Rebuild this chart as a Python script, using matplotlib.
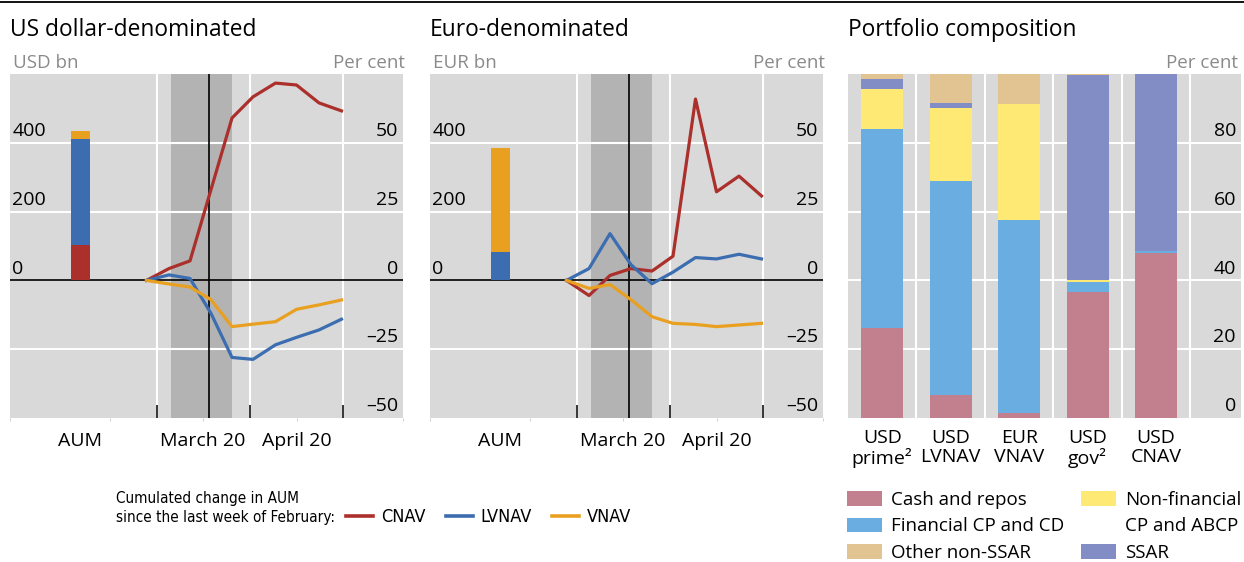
import matplotlib
matplotlib.use('Agg')
import matplotlib.pyplot as plt
import matplotlib.transforms as mtransforms
from matplotlib.lines import Line2D
from matplotlib.patches import Patch
from matplotlib import font_manager

plt.rcParams['font.family'] = ['Open Sans', 'DejaVu Sans']

W, H = 1244, 562

# weekly observations, x = days since 1 March 2020
days = [-3.5, 4, 11, 18, 25, 32, 39.5, 46.5, 54, 61.5]

# cumulated change in AUM, per cent
usd_cnav = [0, 4.3, 7.1, 33, 59, 66.7, 71.7, 71, 64.5, 61.6]
usd_lvnav = [0, 2, 0.7, -12, -28, -28.7, -23.4, -20.7, -18, -14.1]
usd_vnav = [0, -1.3, -2.4, -7, -16.8, -15.9, -15, -10.5, -8.9, -7.1]

eur_cnav = [0, -5.5, 1.8, 4.3, 3.4, 8.8, 65.9, 32.2, 37.9, 30.7]
eur_lvnav = [0, 4.3, 17, 5.7, -1.2, 3, 8.3, 7.8, 9.5, 7.8]
eur_vnav = [0, -2.9, -1.5, -7, -13.2, -15.6, -16, -16.8, -16.2, -15.6]

# AUM, bn
usd_aum = [104, 308, 23]   # CNAV, LVNAV, VNAV
eur_aum = [0, 82, 303]

# portfolio composition, per cent
funds = ['USD\nprime²', 'USD\nLVNAV', 'EUR\nVNAV', 'USD\ngov²', 'USD\nCNAV']
cash = [26.3, 6.6, 1.4, 36.7, 48.1]
fin_cp = [57.7, 62.3, 56.2, 2.9, 0.5]
nonfin = [11.6, 21.2, 33.7, 0.4, 0]
ssar = [2.9, 1.5, 0, 59.6, 51.4]
other = [1.5, 8.4, 8.7, 0.4, 0]

month_ticks = [0, 31, 62]
label_ticks = [-49, -15.7, 15.3, 46.7, 82]
right_ticks = [-50, -25, 0, 25, 50]
left_ticks = [0, 200, 400]

RED, BLUE, ORANGE = '#ab2f2b', '#3b6db0', '#e9a021'
BG = '#d9d9d9'
GREY_TXT = '#8a8a8a'
FS = 14

# condensed face for the bottom-left legend, if one is installed
cond = [f for f in font_manager.fontManager.ttflist
        if f.stretch in ('condensed', 'semi-condensed') and f.style == 'normal'
        and f.weight in (400, 'normal', 'regular', 'book')]
cond.sort(key=lambda f: (f.name != 'DejaVu Sans', f.name))
if cond:
    NOTE_FONT = font_manager.FontProperties(fname=cond[0].fname, size=11)
    KEY_FONT = font_manager.FontProperties(fname=cond[0].fname, size=13)
else:
    NOTE_FONT = font_manager.FontProperties(family='Roboto', size=10.5)
    KEY_FONT = font_manager.FontProperties(family='Roboto', size=12.5)

fig = plt.figure(figsize=(W / 100, H / 100), dpi=100)
fig.add_artist(Line2D([0, 1], [1 - 1.5 / H] * 2, transform=fig.transFigure, color='k', lw=1.3))


def line_panel(left, title, unit, aum, cnav, lvnav, vnav):
    ax = fig.add_axes([left / W, (H - 418) / H, 393 / W, 344 / H])
    ax.set_facecolor(BG)
    ax.set_xlim(-49, 82)
    ax.set_ylim(-50, 75)
    for s in ax.spines.values():
        s.set_visible(False)
    ax.axvspan(4.7, 25, color='#b3b3b3', zorder=0.5, lw=0)
    for y in [-25, 25, 50]:
        ax.axhline(y, color='white', lw=1.5, zorder=1)
    for x in month_ticks:
        ax.axvline(x, color='white', lw=1.5, zorder=1)
    ax.axhline(0, color='k', lw=1.2, zorder=2)
    ax.axvline(17.3, color='k', lw=1.2, zorder=2)
    ax.plot(days, cnav, color=RED, lw=2.3, zorder=4)
    ax.plot(days, lvnav, color=BLUE, lw=2.3, zorder=4)
    ax.plot(days, vnav, color=ORANGE, lw=2.3, zorder=4)

    ax2 = ax.twinx()
    ax2.set_ylim(-400, 600)
    for s in ax2.spines.values():
        s.set_visible(False)
    bottom = 0
    for val, col in zip(aum, [RED, BLUE, ORANGE]):
        ax2.bar(-25.6, val, width=6.3, bottom=bottom, color=col, zorder=3)
        bottom += val

    ax.set_xticks(month_ticks)
    ax.set_xticklabels([])
    ax.set_xticks(label_ticks, minor=True)
    ax.tick_params(axis='x', which='major', direction='in', length=9.5, width=1.1, color='k')
    ax.tick_params(axis='x', which='minor', direction='out', length=2, width=0.6, color='#c8c8c8')
    for a in (ax, ax2):
        a.tick_params(axis='y', which='both', left=False, right=False,
                      labelleft=False, labelright=False)

    up = mtransforms.offset_copy(ax.get_yaxis_transform(), fig=fig, y=2, units='points')
    for v in right_ticks:
        ax.text(0.987, v, str(v).replace('-', '–'), transform=up, ha='right', va='bottom', fontsize=FS)
    up2 = mtransforms.offset_copy(ax2.get_yaxis_transform(), fig=fig, y=2, units='points')
    for v in left_ticks:
        ax2.text(0.006, v, str(v), transform=up2, ha='left', va='bottom', fontsize=FS)

    xt = ax.get_xaxis_transform()
    for x, lab in zip([-25.6, 15.3, 46.5], ['AUM', 'March 20', 'April 20']):
        ax.text(x, -0.042, lab, transform=xt, ha='center', va='top', fontsize=FS)

    fig.text(left / W, 1 - 36 / H, title, fontsize=16.4, va='baseline')
    fig.text((left + 3) / W, 1 - 68 / H, unit, fontsize=13.5, color=GREY_TXT, va='baseline')
    fig.text((left + 395) / W, 1 - 68 / H, 'Per cent', fontsize=13.5, color=GREY_TXT,
             va='baseline', ha='right')
    return ax


line_panel(10, 'US dollar-denominated', 'USD bn', usd_aum, usd_cnav, usd_lvnav, usd_vnav)
line_panel(430, 'Euro-denominated', 'EUR bn', eur_aum, eur_cnav, eur_lvnav, eur_vnav)

# portfolio composition
ax3 = fig.add_axes([848 / W, (H - 418) / H, 393 / W, 344 / H])
ax3.set_facecolor(BG)
ax3.set_xlim(-0.5, 5.24)
ax3.set_ylim(0, 100)
for s in ax3.spines.values():
    s.set_visible(False)
for y in [20, 40, 60, 80]:
    ax3.axhline(y, color='white', lw=1.5, zorder=1)
for x in [0.5, 1.5, 2.5, 3.5, 4.5]:
    ax3.axvline(x, color='white', lw=1.5, zorder=1)

comp_cols = ['#c27f8e', '#6aade0', '#fde974', '#828dc5', '#e1c492']
bottoms = [0] * len(funds)
for vals, col in zip([cash, fin_cp, nonfin, ssar, other], comp_cols):
    ax3.bar(range(len(funds)), vals, width=0.61, bottom=bottoms, color=col, zorder=2)
    bottoms = [b + v for b, v in zip(bottoms, vals)]

ax3.set_xticks(range(len(funds)))
ax3.set_xticklabels(funds, fontsize=FS, linespacing=1.05)
ax3.tick_params(axis='x', length=0, pad=8)
ax3.tick_params(axis='y', left=False, right=False, labelleft=False, labelright=False)
up3 = mtransforms.offset_copy(ax3.get_yaxis_transform(), fig=fig, y=2, units='points')
for v in [0, 20, 40, 60, 80]:
    ax3.text(0.987, v, str(v), transform=up3, ha='right', va='bottom', fontsize=FS)
fig.text(848 / W, 1 - 36 / H, 'Portfolio composition', fontsize=16.4, va='baseline')
fig.text(1238 / W, 1 - 68 / H, 'Per cent', fontsize=13.5, color=GREY_TXT, va='baseline', ha='right')

# legends
fig.text(116 / W, 1 - 508 / H, 'Cumulated change in AUM\nsince the last week of February:',
         fontproperties=NOTE_FONT, va='center', linespacing=1.3)
line_handles = [Line2D([], [], color=c, lw=2.6) for c in [RED, BLUE, ORANGE]]
fig.legend(line_handles, ['CNAV', 'LVNAV', 'VNAV'], loc='center left',
           bbox_to_anchor=(346 / W, 1 - 517 / H), ncol=3, frameon=False,
           prop=KEY_FONT,
           handlelength=1.5, handletextpad=0.45, columnspacing=1.1,
           borderpad=0, borderaxespad=0)

# legend grid: column 1 then column 2 (second text line of Non-financial has no key)
leg_cols = [comp_cols[0], comp_cols[1], comp_cols[4], comp_cols[2], 'none', comp_cols[3]]
leg_names = ['Cash and repos', 'Financial CP and CD', 'Other non-SSAR',
             'Non-financial', 'CP and ABCP', 'SSAR']
patch_handles = [Patch(facecolor=c, edgecolor='none') for c in leg_cols]
fig.legend(patch_handles, leg_names, loc='upper left',
           bbox_to_anchor=(847 / W, 1 - 491 / H), ncol=2, frameon=False, fontsize=13.5,
           handlelength=1.85, handleheight=0.8, handletextpad=0.5, columnspacing=0.9,
           labelspacing=0.45, borderpad=0, borderaxespad=0)

fig.savefig('out.png', dpi=100)
